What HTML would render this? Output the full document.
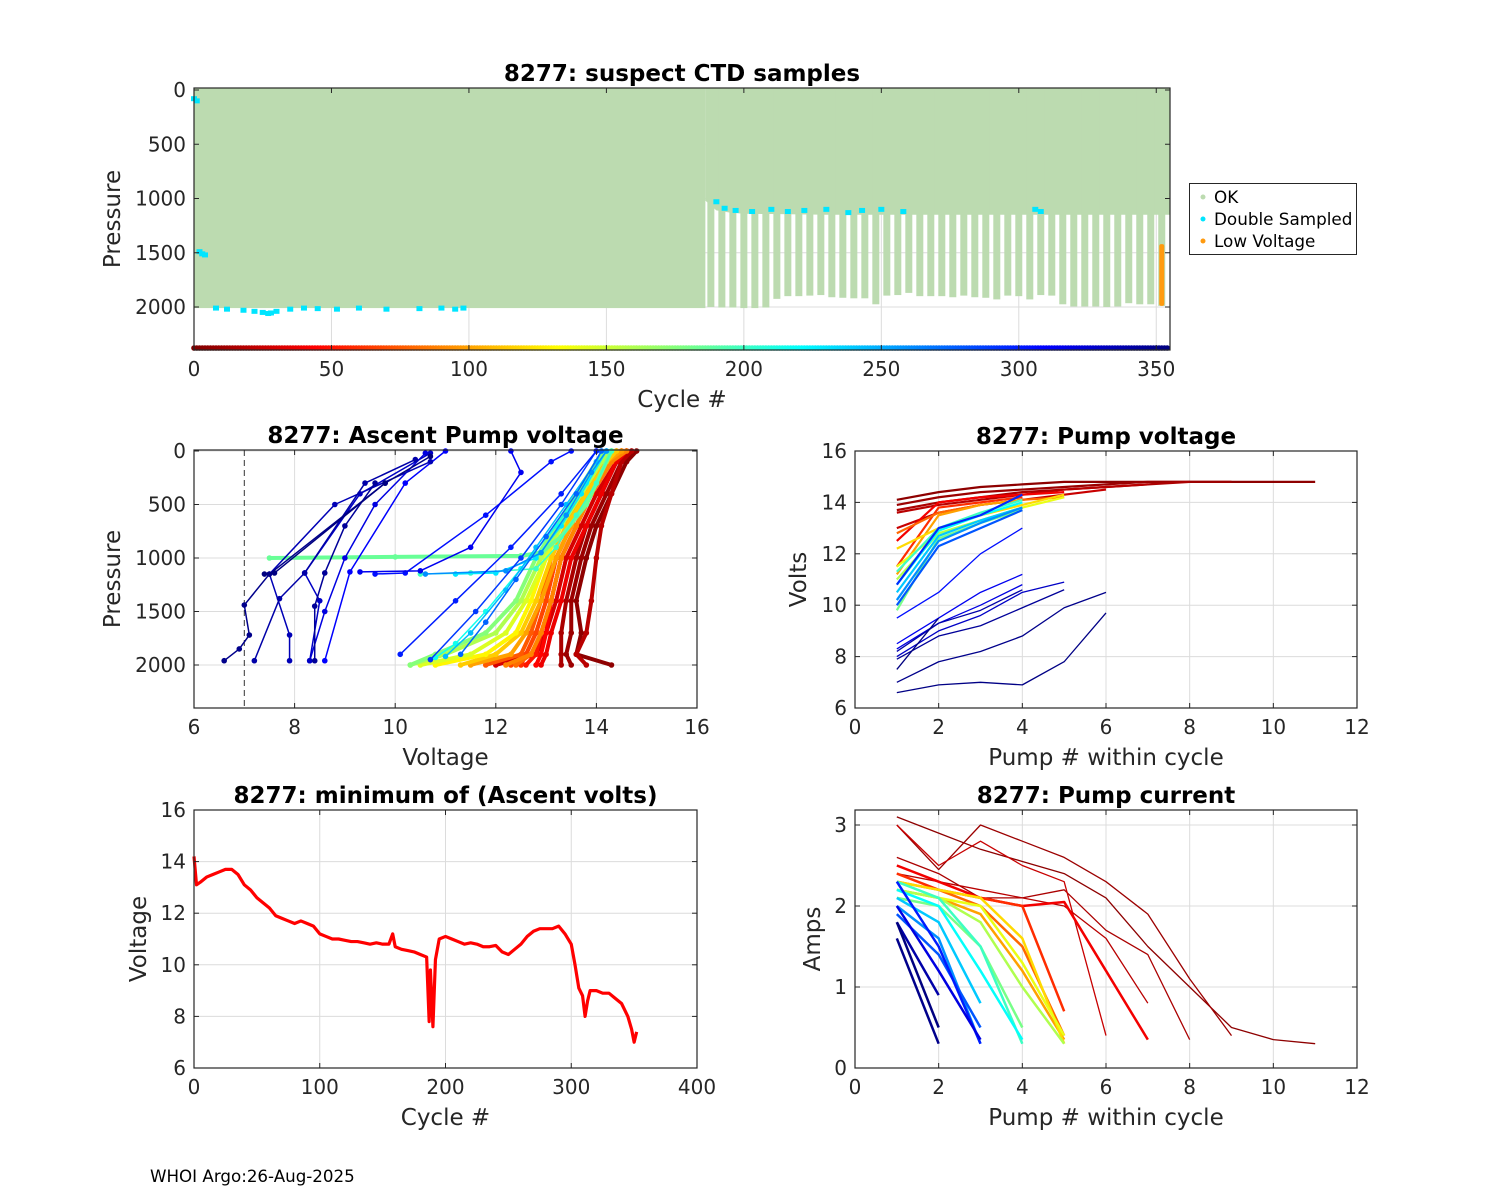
<!DOCTYPE html>
<html><head><meta charset="utf-8">
<style>
html,body{margin:0;padding:0;background:#fff;}
svg{display:block;font-family:"DejaVu Sans","Liberation Sans",sans-serif;}
</style></head>
<body>
<svg id="fig" width="1500" height="1200" viewBox="0 0 1500 1200" xmlns="http://www.w3.org/2000/svg">
<rect width="1500" height="1200" fill="#fff"/>
<text x="150" y="1182" font-size="16.7" fill="#000">WHOI Argo:26-Aug-2025</text>
</svg>
<script>
// ---------- data ----------
const topCycleCount = 355;
const deepCycles = [188,192,196,200,204,208,212,216,220,224,228,232,236,240,244,248,252,256,260,264,268,272,276,280,284,288,292,296,300,304,308,312,316,320,324,328,332,336,340,344,348,352];
const deepMaxP   = [2000,2005,2005,2010,2010,2005,1925,1900,1900,1895,1890,1910,1915,1920,1920,1975,1895,1890,1870,1900,1900,1900,1910,1895,1910,1915,1930,1895,1900,1930,1890,1895,1975,1995,1995,1995,2000,1995,1965,1975,1975,1990];
const shallowCycles = [186,190,195,200,230,354];
const shallowP      = [1020,1110,1130,1140,1150,1150];
const cyanC = [0,1,2,3,4,8,12,18,22,25,27,28,30,35,40,45,52,60,70,82,90,95,98,190,193,197,203,210,216,222,230,238,243,250,258,306,308];
const cyanP = [80,100,1490,1510,1520,2010,2020,2030,2040,2050,2060,2055,2040,2020,2010,2015,2020,2010,2020,2015,2010,2020,2010,1030,1090,1110,1120,1100,1120,1110,1100,1130,1110,1100,1120,1100,1120];
const lowVoltCycle = 352;
const lowVoltRange = [1420,1990];

const minCycles = [0,2,5,10,15,20,25,30,35,40,45,50,55,60,65,70,75,80,85,90,95,100,105,110,115,120,125,130,135,140,145,150,155,158,160,165,170,175,180,185,187,188,190,192,195,200,205,210,215,220,225,230,235,240,245,250,255,260,265,270,275,280,285,290,295,300,303,306,309,311,313,315,320,325,330,335,340,345,348,350,352];
const minVolts  = [14.2,13.1,13.2,13.4,13.5,13.6,13.7,13.7,13.5,13.1,12.9,12.6,12.4,12.2,11.9,11.8,11.7,11.6,11.7,11.6,11.5,11.2,11.1,11.0,11.0,10.95,10.9,10.9,10.85,10.8,10.85,10.8,10.8,11.2,10.7,10.6,10.55,10.5,10.4,10.3,7.8,9.8,7.6,10.2,11.0,11.1,11.0,10.9,10.8,10.85,10.8,10.7,10.7,10.75,10.5,10.4,10.6,10.8,11.1,11.3,11.4,11.4,11.4,11.5,11.2,10.8,10.0,9.1,8.8,8.0,8.6,9.0,9.0,8.9,8.9,8.7,8.5,8.0,7.5,7.0,7.4];

const profCycles = [5,10,15,20,30,38,45,52,60,68,75,82,90,100,115,130,145,160,175,185,200,215,230,245,260,275,290,300,305,310,315,320,330,335,340,345,350,354];
const profP = [
 [2000,1900,1700,1400,1000,700,400,100,0],[2000,1900,1700,1400,1000,700,400,100,0],[2000,1900,1700,1400,1000,700,400,100,0],[2000,1900,1700,1400,1000,700,400,100,0],
 [2000,1900,1700,1400,1000,700,400,100,0],[2000,1900,1700,1400,1000,700,400,100,0],[2000,1900,1700,1400,1000,700,400,100,0],[2000,1900,1700,1400,1000,700,400,100,0],
 [2000,1900,1700,1400,1000,700,400,100,0],[2000,1900,1700,1400,1000,700,400,100,0],[2000,1900,1700,1400,1000,700,400,100,0],[2000,1900,1700,1400,1000,700,400,100,0],
 [2000,1900,1700,1400,1000,700,400,100,0],[2000,1900,1700,1400,1000,700,400,100,0],[2000,1900,1700,1400,1000,700,400,100,0],[2000,1900,1700,1400,1000,700,400,100,0],
 [2000,1900,1700,1400,1000,700,400,100,0],[2000,1900,1700,1400,1000,700,400,100,0],[2000,1900,1700,1400,1000,700,400,100,0],
 [1000,990,980,950,800,500,0],
 [1150,1140,1100,900,600,300,0],[1930,1800,1500,1100,700,300,0],[1150,1140,1000,700,400,0],[1920,1700,1300,900,500,100,0],
 [1150,1120,950,600,200,0],[1900,1600,1200,800,400,0],[1950,1500,1000,500,0],
 [1900,1400,900,400,0],[1150,1140,600,100,0],[1960,1130,300,0],[1130,1120,900,200,0],[1960,1500,1000,500,20],
 [1960,1400,1140,400,20],[1960,1720,1150,500,100],[1960,1380,1140,300,80],[1960,1450,1140,700,300],[1960,1850,1720,1440,1150,300],[1150,1140,300,50]
];
const profV = [
 [14.3,13.6,13.7,13.6,13.8,14.0,14.3,14.6,14.8],[13.5,13.4,13.5,13.5,13.7,13.9,14.2,14.5,14.7],[13.3,13.3,13.3,13.4,13.6,13.8,14.1,14.4,14.6],[13.8,13.6,13.8,13.9,14.0,14.1,14.3,14.5,14.7],
 [12.0,12.8,13.0,13.2,13.4,13.7,14.0,14.4,14.6],[12.9,13.0,13.1,13.3,13.5,13.8,14.1,14.4,14.6],[12.8,12.9,13.0,13.1,13.3,13.6,13.9,14.3,14.5],[12.6,12.8,12.9,13.1,13.3,13.6,13.9,14.3,14.5],
 [12.5,12.6,12.8,13.0,13.2,13.5,13.8,14.2,14.5],[12.3,12.6,12.8,13.0,13.2,13.5,13.8,14.2,14.4],[11.8,12.5,12.7,12.9,13.1,13.4,13.7,14.1,14.4],[12.4,12.7,12.9,13.1,13.3,13.6,13.9,14.3,14.5],
 [12.2,12.7,12.9,13.1,13.3,13.6,13.9,14.3,14.6],[11.5,12.3,12.6,12.9,13.2,13.5,13.8,14.2,14.5],[11.3,12.0,12.5,12.8,13.1,13.4,13.8,14.2,14.4],[10.8,11.8,12.4,12.7,13.0,13.3,13.7,14.1,14.3],
 [10.5,11.5,12.2,12.6,13.0,13.3,13.7,14.1,14.3],[10.3,11.0,12.0,12.5,12.9,13.3,13.7,14.1,14.3],[10.3,10.8,11.8,12.4,12.8,13.2,13.6,14.0,14.2],
 [7.5,10.0,12.5,12.9,13.3,13.8,14.3],
 [10.5,11.5,12.8,13.2,13.6,14.0,14.3],[10.8,11.2,11.8,12.5,13.2,13.8,14.2],[11.2,12.0,12.8,13.3,13.7,14.2],[11.0,11.5,12.2,12.8,13.4,14.0,14.1],
 [10.6,12.2,12.9,13.4,13.9,14.2],[11.3,11.8,12.4,13.0,13.6,14.1],[10.7,11.6,12.5,13.3,14.0],
 [10.1,11.2,12.3,13.3,14.0],[9.6,10.2,11.8,13.1,13.5],[8.6,9.1,10.2,11.0],[9.3,10.5,11.5,12.5,12.3],[8.3,8.6,9.0,9.6,10.6],
 [8.3,8.5,8.2,9.3,10.7],[7.9,7.9,7.5,8.8,10.7],[7.2,7.7,8.2,9.4,10.4],[8.4,8.4,8.6,9.0,9.6],[6.6,6.9,7.1,7.0,7.5,9.8],[7.4,7.6,9.8,10.7]
];
const voltThreshold = 7;

const pvCycles = [5,10,15,20,25,40,60,80,100,120,140,160,180,200,220,240,260,280,295,305,315,320,330,340,345,350,352,354];
const pvVolts = [
 [14.1,14.4,14.6,14.7,14.8,14.8,14.8,14.8,14.8,14.8,14.8],[13.9,14.2,14.4,14.5,14.6,14.7,14.8,14.8,14.8],[13.7,14.0,14.2,14.4,14.5,14.6,14.7,14.8],[13.6,13.9,14.1,14.3,14.5,14.6,14.7],[13.0,13.6,13.9,14.1,14.3,14.5],
 [12.5,14.0,14.2,14.3,14.4],[11.5,13.8,14.0,14.2],[12.8,13.6,13.9,14.1,14.2],[11.2,13.5,13.9,14.1],
 [12.2,13.0,13.5,13.9,14.3],[11.5,12.8,13.3,13.8,14.2],[11.0,12.8,13.3,13.8],[9.8,12.6,13.2,13.7],
 [11.3,13.0,13.6,14.1],[10.8,12.9,13.5,14.0],[10.5,12.7,13.3,13.8],[10.2,12.5,13.2,13.8],[10.0,12.3,13.0,13.7],[10.8,13.0,13.5,14.3],
 [9.5,10.5,12.0,13.0],[8.5,9.5,10.5,11.2],[8.3,9.3,10.0,10.8],
 [8.0,9.0,9.6,10.5,10.9],[8.2,9.3,9.8,10.6],[7.9,8.8,9.2,9.9,10.6],[7.0,7.8,8.2,8.8,9.9,10.5],[6.6,6.9,7.0,6.9,7.8,9.7],[7.5,9.5]
];

const pcCycles = [5,10,15,20,25,40,60,80,100,120,140,160,180,200,220,240,260,280,300,320,340,350,354];
const pcAmps = [
 [3.1,2.9,2.7,2.55,2.4,2.1,1.5,1.0,0.5,0.35,0.3],[3.0,2.45,3.0,2.8,2.6,2.3,1.9,1.1,0.4],[2.6,2.4,2.1,2.1,2.2,1.7,1.4,0.35],[2.4,2.3,2.2,2.1,2.0,1.6,0.8],[3.0,2.5,2.8,2.5,2.3,0.4],
 [2.5,2.3,2.1,2.0,2.05,1.2,0.35],[2.4,2.2,2.1,2.0,0.7],[2.3,2.2,2.0,1.5,0.4],[2.2,2.1,1.9,1.2,0.35],
 [2.3,2.2,2.1,1.6,0.3],[2.2,2.1,2.0,1.3,0.4],[2.2,2.1,1.8,1.0,0.3],[2.1,2.0,1.5,0.5],
 [2.3,2.1,1.5,0.3],[2.2,2.0,1.2,0.35],[2.1,1.8,0.8],[2.0,1.6,0.3],[1.9,1.4,0.5],
 [2.3,1.5,0.3],[2.0,1.2,0.35],[1.8,0.9],[1.6,0.3],[1.8,0.5]
];

// ---------- helpers ----------
const NS = "http://www.w3.org/2000/svg";
const fig = document.getElementById('fig');
const TICK_FS = 20, LAB_FS = 23, TITLE_FS = 23;
function el(tag, attrs, parent){
  const e = document.createElementNS(NS, tag);
  for (const k in attrs) e.setAttribute(k, attrs[k]);
  (parent||fig).appendChild(e);
  return e;
}
function jet(t){
  t = Math.max(0, Math.min(1, t));
  const f = x => Math.max(0, Math.min(1, x));
  const r = f(1.5 - Math.abs(4*t - 3)), g = f(1.5 - Math.abs(4*t - 2)), b = f(1.5 - Math.abs(4*t - 1));
  return `rgb(${Math.round(r*255)},${Math.round(g*255)},${Math.round(b*255)})`;
}
function cycColor(c){ return jet(1 - c/354); }
function lin(d0,d1,r0,r1){ return v => r0 + (v-d0)*(r1-r0)/(d1-d0); }

function axes(o){
  const g = el('g', {});
  
  
  const grid = el('g', {}, g);
  
  
  o.xticks.forEach(t => { const x=o.sx(t); el('line',{x1:x,x2:x,y1:o.y0,y2:o.y1,stroke:'#dcdcdc','stroke-width':1},grid); });
  o.yticks.forEach(t => { const y=o.sy(t); el('line',{x1:o.x0,x2:o.x1,y1:y,y2:y,stroke:'#dcdcdc','stroke-width':1},grid); });
  const plot = el('g', {}, g);
  
  
  o.plot = plot; o.g = g;
  return o;
}
function finishAxes(o){
  const g = o.g;
  const box = el('rect',{x:o.x0,y:o.y0,width:o.x1-o.x0,height:o.y1-o.y0,fill:'none',stroke:'#262626','stroke-width':1.2},g);
  
  
  const xa = el('g',{},g);
  
  
  o.xticks.forEach((t,i) => {
    const x=o.sx(t);
    el('line',{x1:x,x2:x,y1:o.y1,y2:o.y1-5,stroke:'#262626'},xa);
    el('line',{x1:x,x2:x,y1:o.y0,y2:o.y0+5,stroke:'#262626'},xa);
    const tx = el('text',{x:x,y:o.y1+26,'font-size':TICK_FS,'text-anchor':'middle',fill:'#262626'},xa);
    tx.textContent = o.xtickLabels[i];
  });
  const ya = el('g',{},g);
  
  
  o.yticks.forEach((t,i) => {
    const y=o.sy(t);
    el('line',{x1:o.x0,x2:o.x0+5,y1:y,y2:y,stroke:'#262626'},ya);
    el('line',{x1:o.x1,x2:o.x1-5,y1:y,y2:y,stroke:'#262626'},ya);
    const tx = el('text',{x:o.x0-8,y:y+7,'font-size':TICK_FS,'text-anchor':'end',fill:'#262626'},ya);
    tx.textContent = o.ytickLabels[i];
  });
  const xl = el('text',{x:(o.x0+o.x1)/2,y:o.y1+57,'font-size':LAB_FS,'text-anchor':'middle',fill:'#262626'},g);
  xl.textContent = o.xlab;
  
  
  const yl = el('text',{x:0,y:0,'font-size':LAB_FS,'text-anchor':'middle',fill:'#262626',transform:`translate(${o.ylabX},${(o.y0+o.y1)/2}) rotate(-90)`},g);
  yl.textContent = o.ylab;
  
  
  const tt = el('text',{x:(o.x0+o.x1)/2,y:o.y0-7,'font-size':TITLE_FS,'font-weight':'bold','text-anchor':'middle',fill:'#000'},g);
  tt.textContent = o.title;
  
  
}
function polyline(parent, xs, ys, color, w){
  return el('polyline',{points:xs.map((x,i)=>x+','+ys[i]).join(' '),fill:'none',stroke:color,'stroke-width':w,'stroke-linejoin':'round'},parent);
}

// ---------- Top panel ----------
const topTicksX=[0,50,100,150,200,250,300,350], topTicksY=[0,500,1000,1500,2000];
const A1 = axes({name:'suspect-ctd-axes',x0:194,x1:1170,y0:88,y1:350,
  sx:lin(0,355,194,1170), sy:lin(0,2000,90,307),
  xticks:topTicksX, yticks:topTicksY, xtickLabels:topTicksX.map(String), ytickLabels:topTicksY.map(String),
  xlab:'Cycle #', ylab:'Pressure', ylabX:120, title:'8277: suspect CTD samples'});
{
  const p = A1.plot, sx=A1.sx, sy=A1.sy, green='#bcdbb0';
  const full = el('rect',{x:sx(0),y:sy(0)-2,width:sx(186)-sx(0),height:sy(2010)-sy(0)+2,fill:green},p);
  
  
  const pts = [[sx(186),sy(0)-2]];
  shallowCycles.forEach((c,i)=>pts.push([sx(c),sy(shallowP[i])]));
  pts.push([1170,sy(shallowP[shallowP.length-1])]);
  pts.push([1170,sy(0)-2]);
  const sh = el('polygon',{points:pts.map(q=>q.join(',')).join(' '),fill:green},p);
  
  
  deepCycles.forEach((c,i)=>{
    const r = el('rect',{x:sx(c)-3.5,y:sy(0),width:7,height:sy(deepMaxP[i])-sy(0),fill:green},p);
    
    
  });
  cyanC.forEach((c,i)=>{
    const r = el('rect',{x:sx(c)-3,y:sy(cyanP[i])-2.5,width:6,height:5,fill:'#00e5ff'},p);
    
    
  });
  const lv = el('rect',{x:sx(lowVoltCycle)-2.5,y:sy(lowVoltRange[0]),width:5,height:sy(lowVoltRange[1])-sy(lowVoltRange[0]),fill:'#ff9a0f',rx:2},p);
  
  
  for(let c=0;c<topCycleCount;c++){
    const d = el('circle',{cx:sx(c),cy:348,r:2.8,fill:cycColor(c)},p);
    
    
  }
}
finishAxes(A1);
{
  const lg = el('g',{});
  
  
  el('rect',{x:1189.5,y:183.5,width:167,height:71,fill:'#fff',stroke:'#262626'},lg);
  const items=[['OK','#bcdbb0'],['Double Sampled','#00e5ff'],['Low Voltage','#ff9a0f']];
  items.forEach((it,i)=>{
    const e = el('g',{},lg);
    
    
    el('circle',{cx:1203,cy:197+i*22,r:2.5,fill:it[1]},e);
    const t = el('text',{x:1214,y:203+i*22,'font-size':16.8,fill:'#000'},e);
    t.textContent=it[0];
  });
}

// ---------- Middle-left ----------
const mlTicksX=[6,8,10,12,14,16], mlTicksY=[0,500,1000,1500,2000];
const A2 = axes({name:'ascent-pump-voltage-axes',x0:194,x1:697,y0:450,y1:708,
  sx:lin(6,16,194,697), sy:lin(0,2000,451,665),
  xticks:mlTicksX, yticks:mlTicksY, xtickLabels:mlTicksX.map(String), ytickLabels:mlTicksY.map(String),
  xlab:'Voltage', ylab:'Pressure', ylabX:120, title:'8277: Ascent Pump voltage'});
{
  const p=A2.plot;
  const th = el('line',{x1:A2.sx(voltThreshold),x2:A2.sx(voltThreshold),y1:450,y2:708,stroke:'#333','stroke-width':1,'stroke-dasharray':'6,4'},p);
  
  
  profCycles.forEach((c,i)=>{
    const col=cycColor(c);
    const xs=profV[i].map(A2.sx), ys=profP[i].map(A2.sy);
    const w = c<200 ? 4 : 1.5;
    const l = polyline(p,xs,ys,col,w);
    
    
    xs.forEach((x,j)=>{ el('circle',{cx:x,cy:ys[j],r:2.8,fill:col},p); });
  });
}
finishAxes(A2);

// ---------- Middle-right ----------
const mrTicksX=[0,2,4,6,8,10,12], mrTicksY=[6,8,10,12,14,16];
const A3 = axes({name:'pump-voltage-axes',x0:855,x1:1357,y0:451,y1:708,
  sx:lin(0,12,855,1357), sy:lin(6,16,708,451),
  xticks:mrTicksX, yticks:mrTicksY, xtickLabels:mrTicksX.map(String), ytickLabels:mrTicksY.map(String),
  xlab:'Pump # within cycle', ylab:'Volts', ylabX:806, title:'8277: Pump voltage'});
pvCycles.forEach((c,i)=>{
  const xs=pvVolts[i].map((v,j)=>A3.sx(j+1)), ys=pvVolts[i].map(A3.sy);
  const l=polyline(A3.plot,xs,ys,cycColor(c),c<300?2.2:1.3);
  
  
});
finishAxes(A3);

// ---------- Bottom-left ----------
const blTicksX=[0,100,200,300,400], blTicksY=[6,8,10,12,14,16];
const A4 = axes({name:'minimum-ascent-volts-axes',x0:194,x1:697,y0:810,y1:1068,
  sx:lin(0,400,194,697), sy:lin(6,16,1068,810),
  xticks:blTicksX, yticks:blTicksY, xtickLabels:blTicksX.map(String), ytickLabels:blTicksY.map(String),
  xlab:'Cycle #', ylab:'Voltage', ylabX:146, title:'8277: minimum of (Ascent volts)'});
{
  const l=polyline(A4.plot,minCycles.map(A4.sx),minVolts.map(A4.sy),'#ff0000',3.2);
  
  
}
finishAxes(A4);

// ---------- Bottom-right ----------
const brTicksX=[0,2,4,6,8,10,12], brTicksY=[0,1,2,3];
const A5 = axes({name:'pump-current-axes',x0:855,x1:1357,y0:810,y1:1068,
  sx:lin(0,12,855,1357), sy:lin(0,3,1068,825),
  xticks:brTicksX, yticks:brTicksY, xtickLabels:brTicksX.map(String), ytickLabels:brTicksY.map(String),
  xlab:'Pump # within cycle', ylab:'Amps', ylabX:820, title:'8277: Pump current'});
pcCycles.forEach((c,i)=>{
  const xs=pcAmps[i].map((v,j)=>A5.sx(j+1)), ys=pcAmps[i].map(A5.sy);
  const l=polyline(A5.plot,xs,ys,cycColor(c),c<40?1.3:2.5);
  
  
});
finishAxes(A5);
</script>
</body></html>
